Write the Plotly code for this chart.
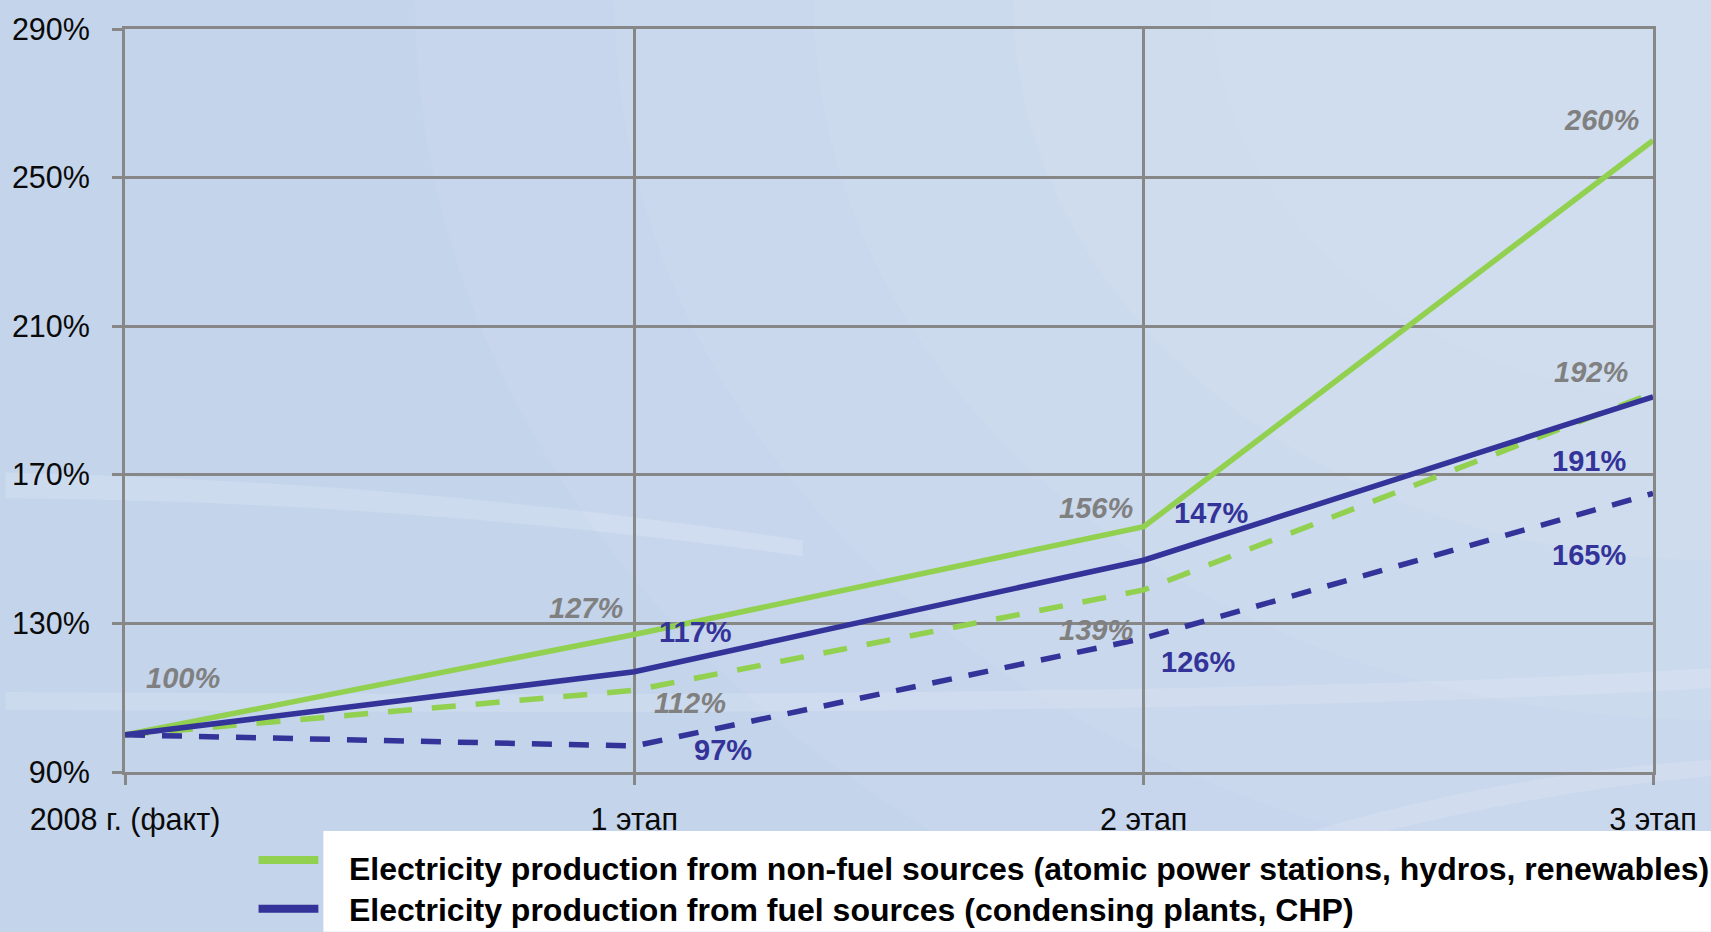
import plotly.graph_objects as go

# ---------------- data ----------------
categories = ["2008 г. (факт)", "1 этап", "2 этап", "3 этап"]
nonfuel_main = [100, 127, 156, 260]   # green solid
fuel_main = [100, 117, 147, 191]      # blue solid
nonfuel_alt = [100, 112, 139, 192]    # green dashed
fuel_alt = [100, 97, 126, 165]        # blue dashed
y_ticks = [90, 130, 170, 210, 250, 290]
legend_labels = [
    "Electricity production from non-fuel sources (atomic power stations, hydros, renewables)",
    "Electricity production from fuel sources (condensing plants, CHP)",
]

# ---------------- styles ----------------
GREEN = "#92d050"
BLUE = "#333399"
GRAY_TXT = "#808080"
GRID = "#878787"
BG = "#c4d4eb"
FONT = "Liberation Sans, Arial, sans-serif"

fig = go.Figure()

series = [
    (nonfuel_alt, GREEN, "24px,20px"),
    (fuel_alt, BLUE, "20px,17px"),
    (nonfuel_main, GREEN, "solid"),
    (fuel_main, BLUE, "solid"),
]
for vals, col, dash in series:
    fig.add_trace(go.Scatter(
        x=categories, y=vals, mode="lines",
        line=dict(color=col, width=5.5, dash=dash),
        showlegend=False, hoverinfo="skip",
    ))

# data labels: (series values, point index, x shift, y shift, is_gray_italic)
label_specs = [
    (nonfuel_main, 0, 58, 57, True),
    (nonfuel_main, 1, -48, 27, True),
    (nonfuel_main, 2, -48, 19, True),
    (nonfuel_main, 3, -52, 20, True),
    (nonfuel_alt, 1, 56, -13, True),
    (nonfuel_alt, 2, -48, -40, True),
    (nonfuel_alt, 3, -62, 21, True),
    (fuel_main, 1, 61, 40, False),
    (fuel_main, 2, 67, 47, False),
    (fuel_main, 3, -64, -64, False),
    (fuel_alt, 1, 89, -4, False),
    (fuel_alt, 2, 54, -24, False),
    (fuel_alt, 3, -64, -62, False),
]
annotations = []
for vals, i, dx, dy, gray in label_specs:
    if gray:
        txt = f"<b><i>{vals[i]}%</i></b>"
        col = GRAY_TXT
    else:
        txt = f"<b>{vals[i]}%</b>"
        col = BLUE
    annotations.append(dict(
        x=categories[i], y=vals[i], xref="x", yref="y", text=txt,
        showarrow=False, xshift=dx, yshift=dy,
        xanchor="center", yanchor="middle",
        font=dict(family=FONT, size=29, color=col),
    ))

# plot geometry (pixels) for paper conversion
L, R, T, B = 120, 58, 28, 160
W, H = 1711, 932
PW, PH = W - L - R, H - T - B


def px(xp):
    return (xp - L) / PW


def py(yp):
    return (H - B - yp) / PH


shapes = []
# soft light gradient toward the top-right corner
for rad in [1300, 1100, 900, 700, 500]:
    shapes.append(dict(type="circle", xref="paper", yref="paper", layer="below",
                       x0=px(1711 - rad), x1=px(1711 + rad), y0=py(rad * 0.8), y1=py(-rad * 0.8),
                       fillcolor="rgba(255,255,255,0.055)", line=dict(width=0)))
# faint swooshes
shapes.append(dict(type="path", xref="paper", yref="paper", layer="below",
                   path=(f"M {px(0)},{py(472)} C {px(250)},{py(478)} {px(500)},{py(495)} {px(800)},{py(540)} "
                         f"L {px(800)},{py(556)} C {px(500)},{py(515)} {px(250)},{py(500)} {px(0)},{py(498)} Z"),
                   fillcolor="rgba(255,255,255,0.16)", line=dict(width=0)))
shapes.append(dict(type="path", xref="paper", yref="paper", layer="below",
                   path=(f"M {px(0)},{py(692)} C {px(400)},{py(694)} {px(1200)},{py(700)} {px(1711)},{py(668)} "
                         f"L {px(1711)},{py(688)} C {px(1200)},{py(718)} {px(400)},{py(712)} {px(0)},{py(710)} Z"),
                   fillcolor="rgba(255,255,255,0.14)", line=dict(width=0)))
shapes.append(dict(type="path", xref="paper", yref="paper", layer="below",
                   path=(f"M {px(1050)},{py(932)} C {px(1300)},{py(810)} {px(1550)},{py(770)} {px(1711)},{py(760)} "
                         f"L {px(1711)},{py(776)} C {px(1550)},{py(790)} {px(1300)},{py(835)} {px(1100)},{py(932)} Z"),
                   fillcolor="rgba(255,255,255,0.14)", line=dict(width=0)))

# legend box
shapes.append(dict(type="rect", xref="paper", yref="paper", layer="above",
                   x0=px(319), x1=px(1711), y0=py(932), y1=py(831),
                   fillcolor="white", line=dict(width=0)))
legend_colors = [GREEN, BLUE]
legend_y = [860, 909]
text_y = [869, 910]
for lab, col, ly, ty in zip(legend_labels, legend_colors, legend_y, text_y):
    shapes.append(dict(type="line", xref="paper", yref="paper", layer="above",
                       x0=px(254), x1=px(314), y0=py(ly), y1=py(ly),
                       line=dict(color=col, width=8)))
    annotations.append(dict(
        x=px(343), y=py(ty), xref="paper", yref="paper", text=f"<b>{lab}</b>",
        showarrow=False, xanchor="left", yanchor="middle",
        font=dict(family=FONT, size=32, color="black"),
    ))

fig.update_layout(
    width=W, height=H,
    margin=dict(l=L, r=R, t=T, b=B, pad=0),
    paper_bgcolor=BG, plot_bgcolor="rgba(0,0,0,0)",
    font=dict(family=FONT, size=30, color="black"),
    shapes=shapes, annotations=annotations,
    xaxis=dict(
        type="category", range=[0, 3], categoryorder="array", categoryarray=categories,
        showgrid=True, gridcolor=GRID, gridwidth=3,
        showline=True, linecolor=GRID, linewidth=3, mirror=True,
        ticks="outside", ticklen=10, tickwidth=3, tickcolor=GRID,
        tickfont=dict(size=30.5, color="#0a0a0a"), ticklabelstandoff=8,
        zeroline=False, fixedrange=True,
    ),
    yaxis=dict(
        range=[90, 290], tickvals=y_ticks, ticktext=[f"{v}%" for v in y_ticks],
        showgrid=True, gridcolor=GRID, gridwidth=3,
        showline=True, linecolor=GRID, linewidth=3, mirror=True,
        ticks="outside", ticklen=10, tickwidth=3, tickcolor=GRID,
        tickfont=dict(size=30.5, color="#0a0a0a"), ticklabelstandoff=16,
        zeroline=False, fixedrange=True,
    ),
)

fig.write_html(
    "out.html",
    config={"displayModeBar": False},
    post_script="document.body.style.margin='0';document.body.style.overflow='hidden';",
)
